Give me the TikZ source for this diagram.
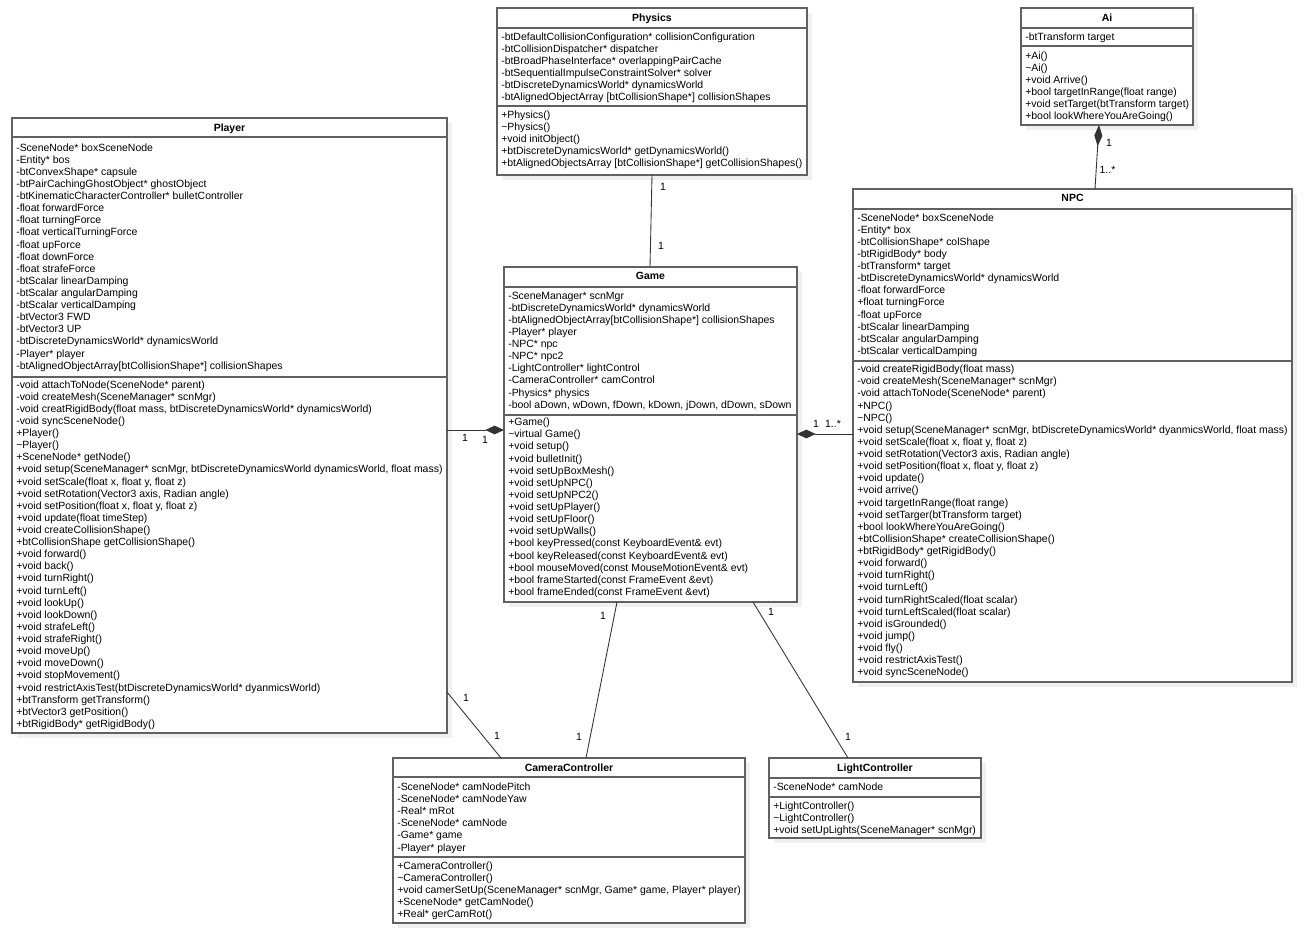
\documentclass[tikz,border=0pt]{standalone}
\usepackage{fontspec}
\setmainfont{Liberation Sans}
\usetikzlibrary{fit,arrows.meta}
\newcommand\umlmemfont{\fontsize{7.85pt}{9.09pt}\selectfont}
\newcommand\umltitlefont{\fontsize{7.85pt}{9.09pt}\selectfont\bfseries}
\newcommand\tld{\textasciitilde}
\tikzset{
  cls/.style={draw=black!62, line width=0.8pt, fill=white, inner sep=0pt, outer sep=0pt},
  sepline/.style={draw=black!62, line width=0.8pt},
  shadowbox/.style={fill=black!6, draw=none},
  ttl/.style={font=\umltitlefont, anchor=base, inner sep=0pt},
  members/.style={font=\umlmemfont, align=left, anchor=north west, inner sep=0pt},
  lbl/.style={font=\umlmemfont, inner sep=0pt, anchor=center},
  conn/.style={draw=black!80, line width=0.65pt},
  comp/.style={conn, -{Diamond[length=14pt,width=6.5pt]}},
}
% name, L, T, R, B, title separator, member divider
\newcommand\umlbox[7]{%
  \fill[shadowbox] ({#2+5},{#3+5}) rectangle ({#4+5},{#5+5});
  \node[cls, fit={(#2,#3) (#4,#5)}] (#1) {};
  \draw[sepline] (#1.west |- 0,#6) -- (#1.east |- 0,#6);
  \draw[sepline] (#1.west |- 0,#7) -- (#1.east |- 0,#7);
}
\begin{document}
\begin{tikzpicture}[x=0.75pt,y=-0.75pt]
\useasboundingbox (0,0) rectangle (1307,934);
\fill[white] (0,0) rectangle (1307,934);

% ---------- Physics ----------
\umlbox{phys}{497}{8}{807}{175}{28}{106}
\node[ttl] (phys-t) at (652,21.7) {Physics};
\node[members] (phys-a) at (501,31.5) {\strut-btDefaultCollisionConfiguration* collisionConfiguration\\
-btCollisionDispatcher* dispatcher\\
-btBroadPhaseInterface* overlappingPairCache\\
-btSequentialImpulseConstraintSolver* solver\\
-btDiscreteDynamicsWorld* dynamicsWorld\\
-btAlignedObjectArray [btCollisionShape*] collisionShapes};
\node[members] (phys-m) at (501,109.5) {\strut+Physics()\\
\tld Physics()\\
+void initObject()\\
+btDiscreteDynamicsWorld* getDynamicsWorld()\\
+btAlignedObjectsArray [btCollisionShape*] getCollisionShapes()};

% ---------- Ai ----------
\umlbox{ai}{1021}{8}{1193}{125}{28}{46}
\node[ttl] (ai-t) at (1107,21.3) {Ai};
\node[members] (ai-a) at (1025,31.5) {\strut-btTransform target};
\node[members] (ai-m) at (1025,50.5) {\strut+Ai()\\
\tld Ai()\\
+void Arrive()\\
+bool targetInRange(float range)\\
+void setTarget(btTransform target)\\
+bool lookWhereYouAreGoing()};

% ---------- Player ----------
\umlbox{player}{12}{118}{447}{733}{137}{377}
\node[ttl] (player-t) at (229.5,131.3) {Player};
\node[members] (player-a) at (16,142.3) {\strut-SceneNode* boxSceneNode\\
-Entity* bos\\
-btConvexShape* capsule\\
-btPairCachingGhostObject* ghostObject\\
-btKinematicCharacterController* bulletController\\
-float forwardForce\\
-float turningForce\\
-float verticalTurningForce\\
-float upForce\\
-float downForce\\
-float strafeForce\\
-btScalar linearDamping\\
-btScalar angularDamping\\
-btScalar verticalDamping\\
-btVector3 FWD\\
-btVector3 UP\\
-btDiscreteDynamicsWorld* dynamicsWorld\\
-Player* player\\
-btAlignedObjectArray[btCollisionShape*] collisionShapes};
\node[members] (player-m) at (16,379.3) {\strut-void attachToNode(SceneNode* parent)\\
-void createMesh(SceneManager* scnMgr)\\
-void creatRigidBody(float mass, btDiscreteDynamicsWorld* dynamicsWorld)\\
-void syncSceneNode()\\
+Player()\\
\tld Player()\\
+SceneNode* getNode()\\
+void setup(SceneManager* scnMgr, btDiscreteDynamicsWorld dynamicsWorld, float mass)\\
+void setScale(float x, float y, float z)\\
+void setRotation(Vector3 axis, Radian angle)\\
+void setPosition(float x, float y, float z)\\
+void update(float timeStep)\\
+void createCollisionShape()\\
+btCollisionShape getCollisionShape()\\
+void forward()\\
+void back()\\
+void turnRight()\\
+void turnLeft()\\
+void lookUp()\\
+void lookDown()\\
+void strafeLeft()\\
+void strafeRight()\\
+void moveUp()\\
+void moveDown()\\
+void stopMovement()\\
+void restrictAxisTest(btDiscreteDynamicsWorld* dyanmicsWorld)\\
+btTransform getTransform()\\
+btVector3 getPosition()\\
+btRigidBody* getRigidBody()};

% ---------- Game ----------
\umlbox{game}{504}{267}{797}{602}{287}{415}
\node[ttl] (game-t) at (650.5,279.7) {Game};
\node[members] (game-a) at (508,290.3) {\strut-SceneManager* scnMgr\\
-btDiscreteDynamicsWorld* dynamicsWorld\\
-btAlignedObjectArray[btCollisionShape*] collisionShapes\\
-Player* player\\
-NPC* npc\\
-NPC* npc2\\
-LightController* lightControl\\
-CameraController* camControl\\
-Physics* physics\\
-bool aDown, wDown, fDown, kDown, jDown, dDown, sDown};
\node[members] (game-m) at (508,417) {\strut+Game()\\
\tld virtual Game()\\
+void setup()\\
+void bulletInit()\\
+void setUpBoxMesh()\\
+void setUpNPC()\\
+void setUpNPC2()\\
+void setUpPlayer()\\
+void setUpFloor()\\
+void setUpWalls()\\
+bool keyPressed(const KeyboardEvent\& evt)\\
+bool keyReleased(const KeyboardEvent\& evt)\\
+bool mouseMoved(const MouseMotionEvent\& evt)\\
+bool frameStarted(const FrameEvent \&evt)\\
+bool frameEnded(const FrameEvent \&evt)};

% ---------- NPC ----------
\umlbox{npc}{853}{189}{1292}{682}{209}{361}
\node[ttl] (npc-t) at (1072.5,202) {NPC};
\node[members] (npc-a) at (857,212.3) {\strut-SceneNode* boxSceneNode\\
-Entity* box\\
-btCollisionShape* colShape\\
-btRigidBody* body\\
-btTransform* target\\
-btDiscreteDynamicsWorld* dynamicsWorld\\
-float forwardForce\\
+float turningForce\\
-float upForce\\
-btScalar linearDamping\\
-btScalar angularDamping\\
-btScalar verticalDamping};
\node[members] (npc-m) at (857,364) {\strut-void createRigidBody(float mass)\\
-void createMesh(SceneManager* scnMgr)\\
-void attachToNode(SceneNode* parent)\\
+NPC()\\
\tld NPC()\\
+void setup(SceneManager* scnMgr, btDiscreteDynamicsWorld* dyanmicsWorld, float mass)\\
+void setScale(float x, float y, float z)\\
+void setRotation(Vector3 axis, Radian angle)\\
+void setPosition(float x, float y, float z)\\
+void update()\\
+void arrive()\\
+void targetInRange(float range)\\
+void setTarger(btTransform target)\\
+bool lookWhereYouAreGoing()\\
+btCollisionShape* createCollisionShape()\\
+btRigidBody* getRigidBody()\\
+void forward()\\
+void turnRight()\\
+void turnLeft()\\
+void turnRightScaled(float scalar)\\
+void turnLeftScaled(float scalar)\\
+void isGrounded()\\
+void jump()\\
+void fly()\\
+void restrictAxisTest()\\
+void syncSceneNode()};

% ---------- CameraController ----------
\umlbox{cam}{393}{758}{745}{923}{777}{857}
\node[ttl] (cam-t) at (569,771.2) {CameraController};
\node[members] (cam-a) at (397,781.7) {\strut-SceneNode* camNodePitch\\
-SceneNode* camNodeYaw\\
-Real* mRot\\
-SceneNode* camNode\\
-Game* game\\
-Player* player};
\node[members] (cam-m) at (397,860.7) {\strut+CameraController()\\
\tld CameraController()\\
+void camerSetUp(SceneManager* scnMgr, Game* game, Player* player)\\
+SceneNode* getCamNode()\\
+Real* gerCamRot()};

% ---------- LightController ----------
\umlbox{light}{769}{758}{981}{838}{778}{797}
\node[ttl] (light-t) at (875,771.4) {LightController};
\node[members] (light-a) at (773,781.7) {\strut-SceneNode* camNode};
\node[members] (light-m) at (773,801) {\strut+LightController()\\
\tld LightController()\\
+void setUpLights(SceneManager* scnMgr)};

% ---------- connectors ----------
\draw[conn] (phys.south -| 652,0) -- (game.north -| 650,0);
\node[lbl] (l-pg1) at (663,187) {1};
\node[lbl] (l-pg2) at (661,246) {1};

\draw[conn, {Diamond[length=16pt,width=6pt]}-] (ai.south -| 1099,0) -- (npc.north -| 1095,0);
\node[lbl] (l-an1) at (1109,142.5) {1};
\node[lbl] (l-an2) at (1107.5,169.5) {1..*};

\draw[comp] (player.east |- 0,430) -- (game.west |- 0,430);
\node[lbl] (l-plg1) at (465,438) {1};
\node[lbl] (l-plg2) at (485,440) {1};

\draw[comp] (npc.west |- 0,434) -- (game.east |- 0,434);
\node[lbl] (l-ng1) at (816,423.5) {1};
\node[lbl] (l-ng2) at (833,423.5) {1..*};

\draw[conn] (player.east |- 0,692) -- (cam.north -| 501,0);
\node[lbl] (l-pc1) at (466,698) {1};
\node[lbl] (l-pc2) at (497,736) {1};

\draw[conn] (game.south -| 617,0) -- (cam.north -| 586,0);
\node[lbl] (l-gc1) at (603,616) {1};
\node[lbl] (l-gc2) at (579,737) {1};

\draw[conn] (game.south -| 753,0) -- (light.north -| 848,0);
\node[lbl] (l-gl1) at (771,612) {1};
\node[lbl] (l-gl2) at (848,737) {1};
\end{tikzpicture}
\end{document}
